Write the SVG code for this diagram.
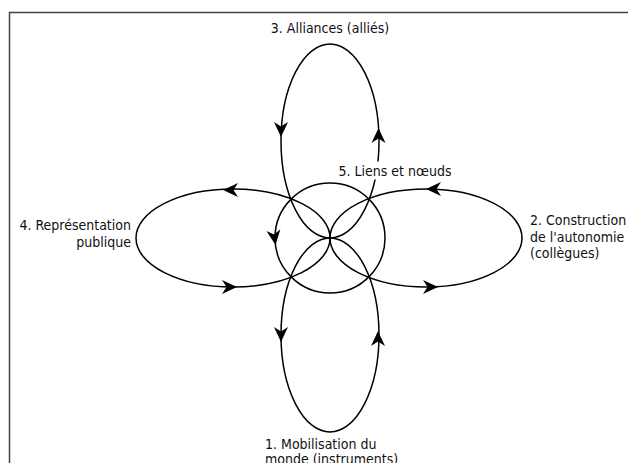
<svg xmlns="http://www.w3.org/2000/svg" xmlns:xlink="http://www.w3.org/1999/xlink" width="628" height="463" viewBox="0 0 628 463">
  <style>
    .loop { fill: none; stroke: #000; stroke-width: 1.5; }
    .lbl { font-family: "DejaVu Sans Condensed", "DejaVu Sans", Verdana, sans-serif; font-stretch: condensed; font-size: 14px; fill: #111; }
    .frame { fill: none; stroke: #444; stroke-width: 1.5; }
  </style>
  <defs>
    <path id="ah" d="M0,0 L-15,-7 L-10.5,0 L-15,7 Z" fill="#000"/>
  </defs>
  <rect width="628" height="463" fill="#fff"/>
  <path class="frame" d="M9.5,463 V12.5 H628"/>

  <g id="node1-mobilisation">
    <ellipse class="loop" cx="330" cy="335" rx="49" ry="97"/>
    <use xlink:href="#ah" transform="translate(281,342) rotate(90)"/>
    <use xlink:href="#ah" transform="translate(378,331) rotate(-90)"/>
    <text class="lbl" x="265" y="449">1. Mobilisation du</text>
    <text class="lbl" x="265" y="464">monde (instruments)</text>
  </g>

  <g id="node2-autonomie">
    <ellipse class="loop" cx="426" cy="238" rx="96" ry="49"/>
    <use xlink:href="#ah" transform="translate(426,189) rotate(180)"/>
    <use xlink:href="#ah" transform="translate(438,287)"/>
    <text class="lbl" x="530" y="225">2. Construction</text>
    <text class="lbl" x="530" y="241.5">de l'autonomie</text>
    <text class="lbl" x="530" y="258">(collègues)</text>
  </g>

  <g id="node3-alliances">
    <ellipse class="loop" cx="330" cy="141" rx="49" ry="97"/>
    <use xlink:href="#ah" transform="translate(281,137) rotate(90)"/>
    <use xlink:href="#ah" transform="translate(378.5,128) rotate(-90)"/>
    <text class="lbl" x="330" y="33" text-anchor="middle">3. Alliances (alliés)</text>
  </g>

  <g id="node4-representation">
    <ellipse class="loop" cx="233" cy="238" rx="97" ry="49"/>
    <use xlink:href="#ah" transform="translate(223,190) rotate(180)"/>
    <use xlink:href="#ah" transform="translate(237,287)"/>
    <text class="lbl" x="131" y="230" text-anchor="end">4. Représentation</text>
    <text class="lbl" x="131" y="246.5" text-anchor="end">publique</text>
  </g>

  <g id="node5-liens">
    <circle class="loop" cx="330" cy="238" r="55"/>
    <use xlink:href="#ah" transform="translate(275.5,245) rotate(82)"/>
    <rect x="337" y="161.5" width="116" height="18" fill="#fff"/>
    <text class="lbl" x="395" y="176" text-anchor="middle">5. Liens et nœuds</text>
  </g>

  <g id="connectors"></g>
</svg>
